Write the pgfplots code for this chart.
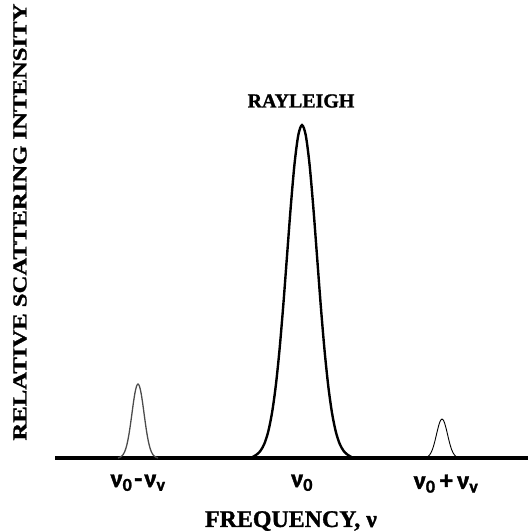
\documentclass[border=0pt]{standalone}
\usepackage{pgfplots}
\pgfplotsset{compat=1.18}
\usepackage{graphicx}
\usepackage{fontspec}
\setmainfont{Liberation Serif}[BoldFeatures={FakeBold=1.2}]
\newfontfamily\carlito{Carlito}[BoldFont={Carlito Bold}, BoldFeatures={FakeBold=1.5}]
\newcommand{\tl}[1]{{\carlito\bfseries\fontsize{26}{28}\selectfont #1}}

\begin{document}
\begin{tikzpicture}[x=1bp,y=1bp]
\path[use as bounding box] (0,0) rectangle (528,531);
\begin{axis}[
  at={(55bp,73bp)}, anchor=south west,
  scale only axis, width=473bp, height=458bp,
  xmin=55, xmax=528, ymin=0, ymax=458,
  clip=false,
  axis x line=bottom, axis y line=none,
  x axis line style={line width=3.2pt,-},
  xtick={138,302,446},
  xticklabels={\tl{ν\textsubscript{0}\kern2bp-\kern2bpν\textsubscript{v}},\tl{ν\textsubscript{0}},\tl{ν\textsubscript{0}\,+\,ν\textsubscript{v}}},
  major tick length=0pt,
  xticklabel style={anchor=north, yshift=-13bp},
]
% Stokes line
\addplot[smooth, line width=1.3pt, color=black!70] coordinates {
(118,0) (120,0.8) (121.5,1.7) (123,3.2) (124.5,5.9) (126,10.0) (127.5,16.0) (129,24.0) (130.5,33.9) (132,44.9) (133.5,55.9) (135,65.3) (136.5,71.7) (138,74) (139.5,71.7) (141,65.3) (142.5,55.9) (144,44.9) (145.5,33.9) (147,24.0) (148.5,16.0) (150,10.0) (151.5,5.9) (153,3.2) (154.5,1.7) (156,0.8) (158,0)
};
% Rayleigh line
\addplot[smooth, line width=2.4pt, color=black] coordinates {
(251,0) (257,3.7) (260.75,7.6) (264.5,14.6) (268.25,26.5) (272,45.1) (275.75,72.0) (279.5,108.1) (283.25,152.4) (287,202.0) (290.75,251.3) (294.5,293.9) (298.25,322.7) (302,333) (305.75,322.7) (309.5,293.9) (313.25,251.3) (317,202.0) (320.75,152.4) (324.5,108.1) (328.25,72.0) (332,45.1) (335.75,26.5) (339.5,14.6) (343.25,7.6) (347,3.7) (353,0)
};
% anti-Stokes line
\addplot[smooth, line width=0.9pt, color=black] coordinates {
(424,0) (425.5,0.4) (426.875,0.9) (428.25,1.7) (429.625,3.1) (431,5.3) (432.375,8.4) (433.75,12.7) (435.125,17.9) (436.5,23.7) (437.875,29.4) (439.25,34.4) (440.625,37.8) (442,39) (443.375,37.8) (444.75,34.4) (446.125,29.4) (447.5,23.7) (448.875,17.9) (450.25,12.7) (451.625,8.4) (453,5.3) (454.375,3.1) (455.75,1.7) (457.125,0.9) (458.5,0.4) (460,0)
};
\node[font=\bfseries\fontsize{20}{22}\selectfont] at (axis cs:301,357) {RAYLEIGH};
\end{axis}
\node[font=\bfseries\fontsize{24}{26}\selectfont] at (291,10) {FREQUENCY, ν};
\node[rotate=90, font=\bfseries\fontsize{20}{22}\selectfont] at (20,309) {\scalebox{1.24}[1]{RELATIVE SCATTERING INTENSITY}};
\end{tikzpicture}
\end{document}
